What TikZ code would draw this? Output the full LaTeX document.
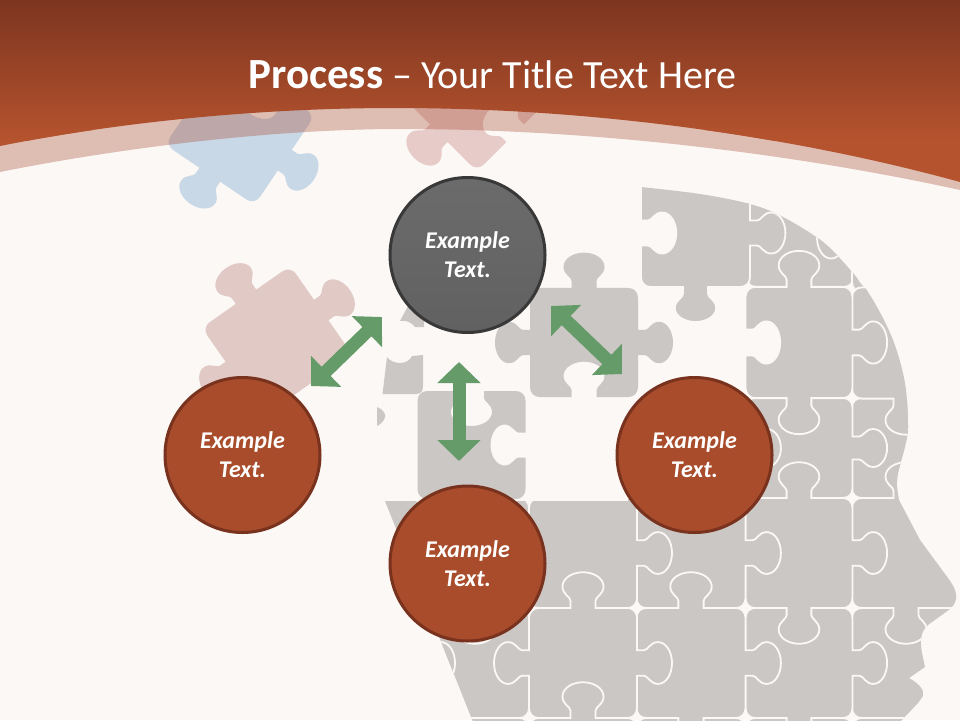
\documentclass[tikz,border=0pt]{standalone}
\usepackage{fontspec}
\setmainfont{Carlito}
\usetikzlibrary{arrows.meta}
\definecolor{pagebg}{HTML}{FBF8F5}
\definecolor{puzzle}{HTML}{CBC7C4}
\definecolor{pzblue}{HTML}{C9D8E6}
\definecolor{pzrose}{HTML}{E1C9C5}
\definecolor{pzpink}{HTML}{E6CBC8}
\definecolor{bartop}{HTML}{7D3520}
\definecolor{barbot}{HTML}{B5532E}
\definecolor{bandc}{HTML}{A5452A}
\definecolor{bubfill}{HTML}{A84C2B}
\definecolor{bubline}{HTML}{78321E}
\definecolor{arrowc}{HTML}{659B69}
% one edge of a jigsaw piece: mid point (#1,#2), along (#3,#4), outward (#5,#6)
\newcommand\jig[6]{
 -- ({#1-12.5*(#3)},{#2-12.5*(#4)})
 -- ({#1-12.5*(#3)+7*(#5)},{#2-12.5*(#4)+7*(#6)})
 .. controls ({#1-12.5*(#3)+11*(#5)},{#2-12.5*(#4)+11*(#6)}) and ({#1-20.5*(#3)+13*(#5)},{#2-20.5*(#4)+13*(#6)}) .. ({#1-20.5*(#3)+21*(#5)},{#2-20.5*(#4)+21*(#6)})
 .. controls ({#1-20.5*(#3)+29*(#5)},{#2-20.5*(#4)+29*(#6)}) and ({#1-11*(#3)+35*(#5)},{#2-11*(#4)+35*(#6)}) .. ({#1+35*(#5)},{#2+35*(#6)})
 .. controls ({#1+11*(#3)+35*(#5)},{#2+11*(#4)+35*(#6)}) and ({#1+20.5*(#3)+29*(#5)},{#2+20.5*(#4)+29*(#6)}) .. ({#1+20.5*(#3)+21*(#5)},{#2+20.5*(#4)+21*(#6)})
 .. controls ({#1+20.5*(#3)+13*(#5)},{#2+20.5*(#4)+13*(#6)}) and ({#1+12.5*(#3)+11*(#5)},{#2+12.5*(#4)+11*(#6)}) .. ({#1+12.5*(#3)+7*(#5)},{#2+12.5*(#4)+7*(#6)})
 -- ({#1+12.5*(#3)},{#2+12.5*(#4)})
}
% piece path: top, right, bottom, left: 1 tab, -1 notch, 0 flat
\newcommand\piece[4]{
 (-44,-54) \jig{0}{-54}{1}{0}{0}{(-1)*(#1)}
 -- (44,-54) .. controls (50,-54) and (54,-50) .. (54,-44)
 \jig{54}{0}{0}{1}{#2}{0}
 -- (54,44) .. controls (54,50) and (50,54) .. (44,54)
 \jig{0}{54}{-1}{0}{0}{#3}
 -- (-44,54) .. controls (-50,54) and (-54,50) .. (-54,44)
 \jig{-54}{0}{0}{-1}{(-1)*(#4)}{0}
 -- (-54,-44) .. controls (-54,-50) and (-50,-54) .. (-44,-54) -- cycle
}
% grid piece: cx cy xscale yscale T R B L
\newcommand\gp[8]{
 \begin{scope}[shift={(#1,#2)},xscale=#3,yscale=#4]
 \fill[puzzle,draw=pagebg,line width=1.8pt] \piece{#5}{#6}{#7}{#8};
 \end{scope}
}
\newcommand\loose[7]{
 \begin{scope}[shift={(#1,#2)},rotate=#3]
 \fill[#4] \piece{#5}{#6}{#7}{0};
 \end{scope}
}
\tikzset{
 bub/.style={circle,minimum size=155pt,inner sep=0pt,line width=3pt,draw=bubline,fill=bubfill,text=white,align=center,
   font=\fontsize{24}{29}\selectfont\bfseries\itshape},
 bubgrey/.style={bub,draw=black!78,fill=none,top color=black!58,bottom color=black!62},
 dbl/.style={arrowc,line width=13pt,{Triangle[length=21pt,width=42pt]}-{Triangle[length=21pt,width=42pt]}}
}
\begin{document}
\begin{tikzpicture}[x=1pt,y=-1pt]
\useasboundingbox (0,0) rectangle (960,720);
\fill[pagebg] (0,0) rectangle (960,720);

% loose pieces
\loose{240}{130}{-34}{pzblue}{-1}{1}{1}
\loose{477}{95}{-45}{pzpink}{0}{-1}{1}
\begin{scope}[shift={(277,341)},rotate=35]
 \fill[pzrose] \piece{1}{1}{0}{1};
\end{scope}

% head
\begin{scope}
\clip (385,501) -- (628,501) -- (628,187) -- (641,187)
 -- plot[smooth,tension=.55] coordinates {(641,187) (700,194) (750,204) (783,217) (823,242) (853,273) (873,300) (893,340) (905,383) (908,427) (905,447) (898,473) (897,487) (899,500)}
 -- (920,540) -- (948,578)
 .. controls (957,590) and (960,600) .. (950,609)
 -- (928,625) .. controls (920,632) and (920,640) .. (922,653)
 -- (925,667) -- (909,678) .. controls (918,683) and (925,690) .. (923,696)
 -- (918,703) -- (900,722) -- (473,722) -- cycle;
 \gp{800}{233}{.99}{1}{0}{0}{0}{0}
 \gp{906}{238}{1}{1}{0}{0}{0}{1}
 \gp{695.5}{233}{1.01}{1}{0}{1}{1}{-1}
 % column E
 \gp{906}{448}{1}{.926}{0}{0}{0}{0}
 \gp{906}{343}{1}{1.03}{0}{0}{1}{0}
 \gp{906}{663}{1}{1.02}{0}{0}{0}{0}
 \gp{906}{553}{1}{1.02}{1}{0}{1}{0}
 \gp{906}{773}{1}{1.02}{0}{0}{0}{0}
 % column D
 \gp{799}{448}{.99}{.926}{0}{1}{0}{0}
 \gp{799}{342.5}{.99}{1.03}{1}{1}{1}{-1}
 \gp{799}{773}{.99}{1.02}{0}{1}{0}{0}
 \gp{799}{663}{.99}{1.02}{0}{1}{1}{0}
 \gp{799}{553}{.99}{1.02}{1}{1}{1}{0}
 % column C
 \gp{691}{448}{1.01}{.926}{0}{1}{0}{0}
 \gp{691}{553}{1.01}{1.02}{0}{1}{0}{0}
 \gp{691}{773}{1.01}{1.02}{0}{1}{0}{0}
 \gp{691}{663}{1.01}{1.02}{1}{1}{1}{0}
 % column A and the one left of it
 \gp{475}{663}{1}{1.02}{0}{0}{0}{0}
 \gp{475}{553}{1}{1.02}{0}{0}{1}{0}
 \gp{475}{773}{1}{1.02}{0}{0}{0}{0}
 \gp{366}{553}{1}{1.02}{0}{0}{0}{0}
 \gp{366}{663}{1}{1.02}{0}{1}{0}{0}
 % column B
 \gp{583}{553}{1}{1.02}{0}{1}{0}{0}
 \gp{583}{663}{1}{1.02}{1}{1}{0}{1}
 \gp{583}{773}{1}{1.02}{1}{1}{0}{0}
\end{scope}
\draw[pagebg,line width=1.6pt] (857,275) .. controls (859,281) and (863,285) .. (867,288);

% free pieces in the middle
\begin{scope}[shift={(584,342.5)},yscale=1.01]
 \fill[puzzle] \piece{1}{1}{-1}{1};
\end{scope}
\begin{scope}[shift={(471.5,445)}]
 \fill[puzzle] \piece{-1}{-1}{0}{0};
\end{scope}
\fill[puzzle] (382.5,394) -- (387,357) .. controls (390,361) and (395,363) .. (400,363)
 .. controls (406,363) and (410,360) .. (412,356) -- (423,355) -- (423,386)
 .. controls (423,391) and (421,394) .. (416,394) -- cycle;
\fill[puzzle] (400,321) -- (408,306) -- (424,306) -- (424,327) -- (415,327)
 .. controls (411,322) and (406,320) .. (400,321) -- cycle;
\fill[puzzle] (377,407) .. controls (383,409) and (386,414) .. (385,417) .. controls (384,421) and (381,424) .. (377,426) -- cycle;

% header
\fill[bandc,opacity=.33] (0,0) -- (0,172) .. controls (130,146) and (280,129) .. (400,129)
 .. controls (600,129) and (800,155) .. (960,190) -- (960,0) -- cycle;
\begin{scope}
 \clip (0,0) -- (0,146) .. controls (130,120) and (270,108) .. (395,108)
 .. controls (600,108) and (800,138) .. (960,182) -- (960,0) -- cycle;
 \fill[barbot] (0,130) rectangle (960,190);
 \shade[top color=bartop,bottom color=barbot] (0,0) rectangle (960,140);
\end{scope}
\node[text=white,font=\fontsize{40}{45}\selectfont,anchor=center] (title) at (492.5,75) {{\fontsize{43}{45}\selectfont\bfseries Process} – Your Title Text Here};

% circles
\node[bubgrey] (top) at (467.5,255) {Example\\Text.};
\node[bub] (left) at (242.5,455) {Example\\Text.};
\node[bub] (right) at (694.5,455) {Example\\Text.};
\node[bub] (bottom) at (467.5,563.5) {Example\\Text.};

% arrows
\coordinate (a1) at (311,386); \coordinate (b1) at (382,317);
\coordinate (a2) at (551,306); \coordinate (b2) at (622,374);
\coordinate (a3) at (459,362); \coordinate (b3) at (459,461);
\draw[dbl] (a1) -- (b1);
\draw[dbl] (a2) -- (b2);
\draw[dbl] (a3) -- (b3);
\end{tikzpicture}
\end{document}
